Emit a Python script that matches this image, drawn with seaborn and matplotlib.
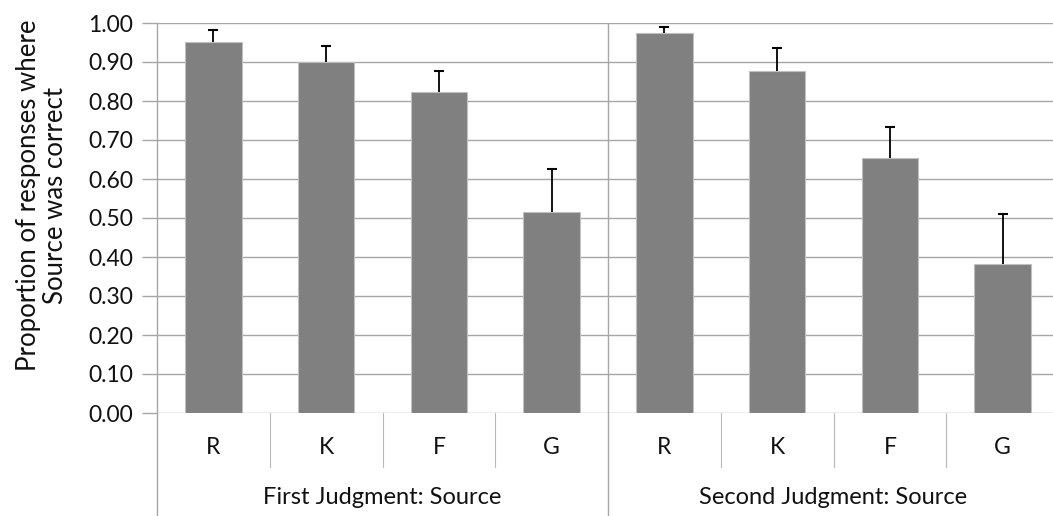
import matplotlib
matplotlib.use("Agg")
import matplotlib.pyplot as plt
import matplotlib.transforms as mtransforms
import seaborn as sns
import pandas as pd
import numpy as np

# ---- data ----
categories = ["R", "K", "F", "G"]
groups = ["First Judgment: Source", "Second Judgment: Source"]
first_means = [0.952, 0.900, 0.824, 0.516]
first_err = [0.029, 0.042, 0.054, 0.109]
second_means = [0.974, 0.877, 0.654, 0.383]
second_err = [0.016, 0.059, 0.080, 0.127]
y_ticks = [0.0, 0.1, 0.2, 0.3, 0.4, 0.5, 0.6, 0.7, 0.8, 0.9, 1.0]
y_label = "Proportion of responses where\nSource was correct"

sns.set_theme(style="white")
plt.rcParams["font.family"] = ["Lato", "DejaVu Sans"]

keys = [f"{g}|{c}" for g in groups for c in categories]
df = pd.DataFrame({
    "key": keys,
    "value": first_means + second_means,
    "err": first_err + second_err,
})

fig = plt.figure(figsize=(10.53, 5.16), dpi=100)
ax = fig.add_axes([157 / 1053, 1 - 413 / 516, 902 / 1053, 390 / 516])

grid_c = "#a6a6a6"
txt_c = "#111111"
for t in y_ticks:
    ax.axhline(t, color=grid_c, lw=1.0, zorder=0)

sns.barplot(data=df, x="key", y="value", order=keys, color="#808080",
            width=0.5, saturation=1, edgecolor="#c0c0c0", linewidth=0.8,
            ax=ax, zorder=2)

xs = np.arange(len(keys))
_, caps, _ = ax.errorbar(xs, df["value"], yerr=[np.zeros(len(keys)), df["err"]],
                         fmt="none", ecolor="black", elinewidth=1.3, capsize=3.5,
                         capthick=1.5, zorder=3)
caps[0].set_visible(False)

ax.set_xlim(-0.5, len(keys) - 0.5)
ax.set_ylim(0, 1.0)
ax.set_yticks(y_ticks)
ax.set_yticklabels([f"{t:.2f}" for t in y_ticks], fontsize=16.5, color=txt_c)
ax.tick_params(axis="y", length=11, width=1, color=grid_c, pad=6, left=True)
ax.set_xticks([])
ax.set_xlabel("")
ax.set_ylabel(y_label, fontsize=18.5, color=txt_c, linespacing=1.12)
ax.yaxis.set_label_coords((68 - 157) / 902, (413 - 195) / 390)

for s in ["top", "right", "bottom", "left"]:
    ax.spines[s].set_visible(False)

trans = mtransforms.blended_transform_factory(ax.transData, ax.transAxes)
# group separators (long)
for xg in [-0.5, 3.5, 7.5]:
    ax.plot([xg, xg], [1.0, -(516 - 413) / 390], transform=trans,
            color=grid_c, lw=1.0, clip_on=False, zorder=1)
# category separators (short)
for g in range(2):
    for k in range(1, 4):
        xc = g * 4 + k - 0.5
        ax.plot([xc, xc], [0, -(467 - 413) / 390], transform=trans,
                color="#b8b8b8", lw=0.8, clip_on=False, zorder=1)
# category labels
for i, x in enumerate(xs):
    ax.text(x, -(447 - 413) / 390, categories[i % 4], transform=trans,
            ha="center", va="center", fontsize=16.5, color=txt_c)
# group labels
for g, name in enumerate(groups):
    ax.text(g * 4 + 1.5, -(497 - 413) / 390, name, transform=trans,
            ha="center", va="center", fontsize=17, color=txt_c)

fig.savefig("out.png", dpi=100)
